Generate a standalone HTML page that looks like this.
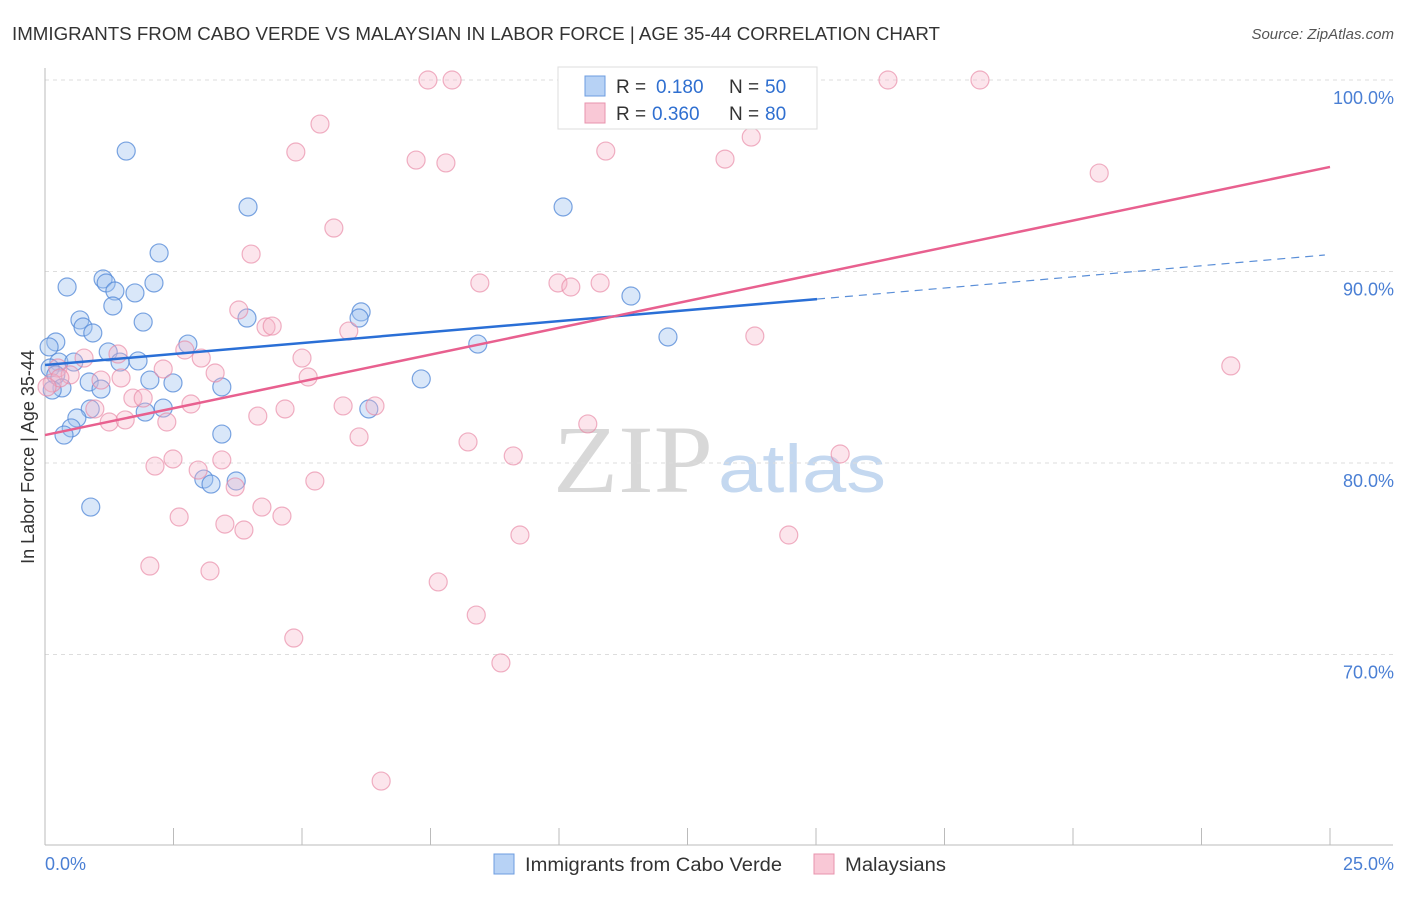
<!DOCTYPE html>
<html><head><meta charset="utf-8"><style>
body{margin:0;background:#fff;font-family:"Liberation Sans",sans-serif;}
</style></head><body>
<svg id="chart" width="1406" height="892" xmlns="http://www.w3.org/2000/svg" font-family="Liberation Sans, sans-serif">
<text x="12" y="40" font-size="18" fill="#333" textLength="928" lengthAdjust="spacingAndGlyphs">IMMIGRANTS FROM CABO VERDE VS MALAYSIAN IN LABOR FORCE | AGE 35-44 CORRELATION CHART</text>
<text x="1394" y="39" font-size="15" fill="#555" font-style="italic" text-anchor="end">Source: ZipAtlas.com</text>
<g>
<text x="553" y="492" font-size="96" fill="#d8d8d8" font-family="Liberation Serif, serif" textLength="160" lengthAdjust="spacingAndGlyphs">ZIP</text>
<text x="718" y="492" font-size="68" fill="#c4d8f0" textLength="168" lengthAdjust="spacingAndGlyphs">atlas</text>
</g>
<g id="grid"></g>
<g id="axes"></g>
<g id="pts"></g>
<g id="trend"></g>
<text transform="translate(34,457) rotate(-90)" font-size="18" fill="#333" text-anchor="middle">In Labor Force | Age 35-44</text>
<text x="45" y="870" font-size="18" fill="#4a7fd4">0.0%</text>
<text x="1394" y="870" font-size="18" fill="#4a7fd4" text-anchor="end">25.0%</text>
<g>
<rect x="558" y="67" width="259" height="62" fill="#fff" stroke="#ddd"/>
<rect x="585" y="76" width="20" height="20" fill="#b7d2f5" stroke="#6c9ce0"/>
<rect x="585" y="103" width="20" height="20" fill="#f9c8d6" stroke="#e893ad"/>
<text x="616" y="93" font-size="19" fill="#333">R =</text><text x="656" y="93" font-size="19" fill="#2f6fd0">0.180</text>
<text x="729" y="93" font-size="19" fill="#333">N =</text><text x="765" y="93" font-size="19" fill="#2f6fd0">50</text>
<text x="616" y="120" font-size="19" fill="#333">R =</text><text x="652" y="120" font-size="19" fill="#2f6fd0">0.360</text>
<text x="729" y="120" font-size="19" fill="#333">N =</text><text x="765" y="120" font-size="19" fill="#2f6fd0">80</text>
</g>
<g>
<rect x="494" y="854" width="20" height="20" fill="#b7d2f5" stroke="#6c9ce0"/>
<text x="525" y="871" font-size="19" fill="#333" textLength="257" lengthAdjust="spacingAndGlyphs">Immigrants from Cabo Verde</text>
<rect x="814" y="854" width="20" height="20" fill="#f9c8d6" stroke="#e893ad"/>
<text x="845" y="871" font-size="19" fill="#333" textLength="101" lengthAdjust="spacingAndGlyphs">Malaysians</text>
</g>
</svg>
<script>
const yTicks=[100,90,80,70];
const yTickLabels=["100.0%","90.0%","80.0%","70.0%"];
const blueX=[1.58,3.95,10.08,2.22,0.43,1.13,1.19,1.36,1.75,2.12,1.32,11.40,3.93,0.68,0.74,6.15,6.11,0.93,1.91,0.21,0.08,2.78,8.42,12.12,1.23,1.46,1.81,0.27,0.56,0.10,0.21,2.04,2.49,0.86,7.32,3.44,1.09,0.33,0.14,2.30,1.95,0.88,0.62,0.51,0.37,3.44,6.30,3.09,3.23,3.72,0.89];
const blueY=[96.29,93.37,93.37,90.97,89.19,89.61,89.40,88.98,88.88,89.40,88.20,88.72,87.57,87.47,87.10,87.89,87.57,86.79,87.36,86.32,86.06,86.21,86.21,86.58,85.80,85.27,85.33,85.27,85.27,84.96,84.60,84.33,84.18,84.23,84.39,83.97,83.86,83.92,83.81,82.87,82.66,82.82,82.35,81.83,81.46,81.51,82.82,79.16,78.90,79.06,77.70];
const pinkX=[7.45,7.92,11.52,16.40,18.19,14.11,5.35,4.88,7.22,7.80,10.91,13.23,13.74,20.51,5.62,4.01,8.46,9.98,10.23,10.80,3.77,4.30,4.42,5.91,13.81,2.72,5.00,0.76,1.42,3.04,0.25,2.30,3.31,0.49,5.12,23.07,1.48,1.09,0.14,0.29,0.04,1.71,1.91,2.84,0.97,4.67,5.80,6.42,4.14,1.25,1.56,2.37,10.56,6.11,8.23,9.11,15.47,2.49,2.14,3.44,2.98,5.25,3.70,4.22,4.61,2.61,3.50,3.87,9.24,14.47,2.04,3.21,7.65,8.39,4.84,8.87,6.54];
const pinkY=[100,100,100,100,100,100,97.70,96.24,95.82,95.67,96.29,95.87,97.02,95.14,92.27,90.91,89.40,89.40,89.19,89.40,87.99,87.10,87.15,86.89,86.63,85.90,85.48,85.48,85.69,85.48,84.96,84.91,84.70,84.60,84.49,85.07,84.44,84.33,84.18,84.44,83.97,83.39,83.39,83.08,82.82,82.82,82.98,82.98,82.45,82.14,82.25,82.14,82.04,81.36,81.10,80.37,80.47,80.21,79.84,80.16,79.63,79.06,78.75,77.70,77.23,77.18,76.81,76.50,76.24,76.24,74.62,74.36,73.79,72.06,70.86,69.56,63.39];
const blueTrendX=[0,15.02,24.9];
const blueTrendY=[85.12,88.56,90.86];
const pinkTrendX=[0,25];
const pinkTrendY=[81.46,95.46];
const NS="http://www.w3.org/2000/svg";
const sx=v=>45+v/25*1285;
const sy=v=>80+(100-v)*19.15;
function mk(tag,attrs,parent){const e=document.createElementNS(NS,tag);for(const k in attrs)e.setAttribute(k,attrs[k]);parent.appendChild(e);return e;}
const grid=document.getElementById('grid'),axes=document.getElementById('axes'),pts=document.getElementById('pts'),trend=document.getElementById('trend');
yTicks.forEach((t,i)=>{
 const l=mk('line',{x1:45,x2:1393,y1:sy(t),y2:sy(t),stroke:'#ddd','stroke-dasharray':'4,4'},grid);
 
 
 const tx=mk('text',{x:1394,y:sy(t)+24,'font-size':18,fill:'#4a7fd4','text-anchor':'end'},grid);
 tx.textContent=yTickLabels[i];
 
 
});
const ya=mk('line',{x1:45,x2:45,y1:68,y2:845,stroke:'#bbb'},axes);


const xa=mk('line',{x1:45,x2:1393,y1:845,y2:845,stroke:'#bbb'},axes);


for(let i=1;i<=10;i++){const v=i*2.5;
 const t=mk('line',{x1:sx(v),x2:sx(v),y1:828,y2:845,stroke:'#bbb'},axes);
 
 
}
blueX.forEach((x,i)=>{
 const c=mk('circle',{cx:sx(x),cy:sy(blueY[i]),r:9,fill:'rgba(160,195,240,0.4)',stroke:'rgba(80,135,215,0.75)','stroke-width':1.2},pts);
 
 
});
pinkX.forEach((x,i)=>{
 const c=mk('circle',{cx:sx(x),cy:sy(pinkY[i]),r:9,fill:'rgba(246,180,200,0.35)',stroke:'rgba(232,135,165,0.65)','stroke-width':1.2},pts);
 
 
});
const b1=mk('line',{x1:sx(blueTrendX[0]),y1:sy(blueTrendY[0]),x2:sx(blueTrendX[1]),y2:sy(blueTrendY[1]),stroke:'#2a6fd6','stroke-width':2.5},trend);


const b2=mk('line',{x1:sx(blueTrendX[1]),y1:sy(blueTrendY[1]),x2:sx(blueTrendX[2]),y2:sy(blueTrendY[2]),stroke:'#5b8fd8','stroke-width':1.2,'stroke-dasharray':'8,6'},trend);


const p1=mk('line',{x1:sx(pinkTrendX[0]),y1:sy(pinkTrendY[0]),x2:sx(pinkTrendX[1]),y2:sy(pinkTrendY[1]),stroke:'#e8608f','stroke-width':2.5},trend);


</script>
</body></html>
